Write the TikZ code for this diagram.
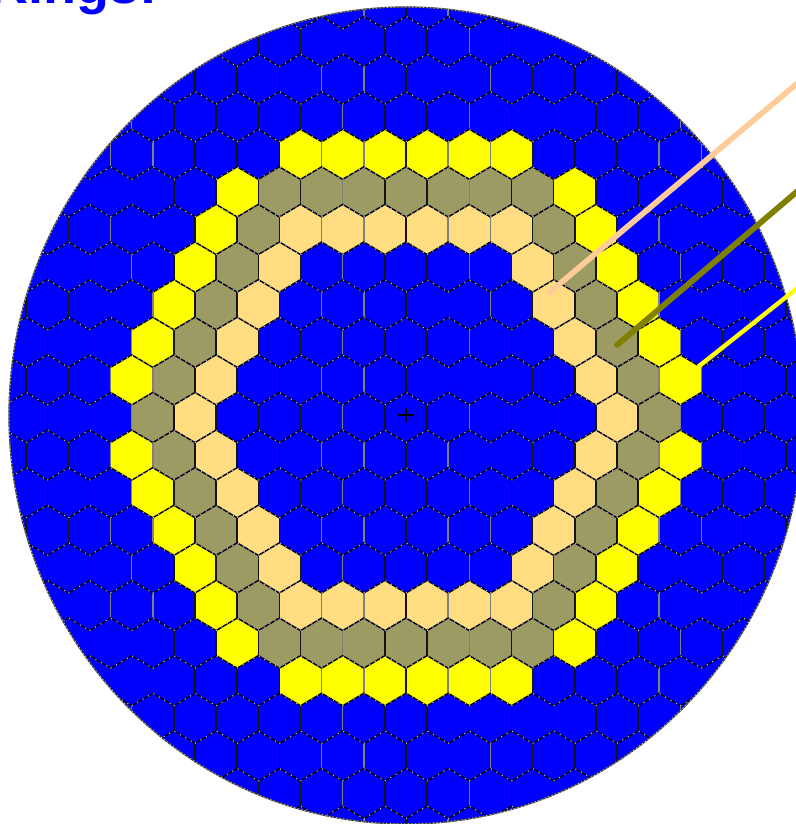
\documentclass[tikz,border=0pt]{standalone}
\usepackage{fontspec}
\setmainfont{Liberation Sans}
\definecolor{ringblue}{RGB}{0,0,255}
\definecolor{ringyellow}{RGB}{255,255,0}
\definecolor{ringkhaki}{RGB}{157,155,100}
\definecolor{ringtan}{RGB}{255,221,128}
\definecolor{leadpeach}{RGB}{255,204,153}
\definecolor{leadolive}{RGB}{128,128,0}
\newcommand{\cellfill}[3]{% row, u, colour
  \pgfmathsetmacro{\cx}{406+21.1*(#2)}
  \pgfmathsetmacro{\cy}{417.5+37.6*(#1)}
  \fill[#3] (\cx,\cy-25.07) -- (\cx+21.1,\cy-12.53) -- (\cx+21.1,\cy+12.53) -- (\cx,\cy+25.07) -- (\cx-21.1,\cy+12.53) -- (\cx-21.1,\cy-12.53) -- cycle;}
\tikzset{
  vedge/.style={line width=1.5pt,black!92},
  vedgelight/.style={line width=1.5pt,black!50},
  sedge/.style={line width=1.4pt,black!90!blue},
  sdots/.style={line width=1.1pt,black!25!white,dash pattern=on 1.1pt off 5.2pt},
  lead/.style={line cap=round}
}
\begin{document}
\begin{tikzpicture}[x=1pt,y=-1pt]
\useasboundingbox (0,0) rectangle (795,824);
\node[anchor=base west,inner sep=0pt,text=ringblue,font=\bfseries\fontsize{54}{54}\selectfont] (title) at (-11,3.2) {Rings:};
\fill[ringblue] (406,415.5) ellipse [x radius=397,y radius=408.5];
\begin{scope}
\clip (406,415.5) ellipse [x radius=397,y radius=408.5];
% coloured cells: row 7
\foreach \r in {-7,7} \foreach \u in {-5,-3,-1,1,3,5} {\cellfill{\r}{\u}{ringyellow}}
% row 6
\foreach \r in {-6,6} {
  \foreach \u in {-8,8} {\cellfill{\r}{\u}{ringyellow}}
  \foreach \u in {-6,-4,-2,0,2,4,6} {\cellfill{\r}{\u}{ringkhaki}}}
% row 5
\foreach \r in {-5,5} {
  \foreach \u in {-9,9} {\cellfill{\r}{\u}{ringyellow}}
  \foreach \u in {-7,7} {\cellfill{\r}{\u}{ringkhaki}}
  \foreach \u in {-5,-3,-1,1,3,5} {\cellfill{\r}{\u}{ringtan}}}
% rows 4 to 1
\foreach \a/\b in {4/10,3/11,2/12,1/13} {
  \foreach \r in {-\a,\a} {
    \pgfmathtruncatemacro{\ky}{\b}
    \pgfmathtruncatemacro{\kk}{\b-2}
    \pgfmathtruncatemacro{\kt}{\b-4}
    \cellfill{\r}{\ky}{ringyellow}\cellfill{\r}{-\ky}{ringyellow}
    \cellfill{\r}{\kk}{ringkhaki}\cellfill{\r}{-\kk}{ringkhaki}
    \cellfill{\r}{\kt}{ringtan}\cellfill{\r}{-\kt}{ringtan}}}
% row 0
\cellfill{0}{12}{ringkhaki}\cellfill{0}{-12}{ringkhaki}
\cellfill{0}{10}{ringtan}\cellfill{0}{-10}{ringtan}
% vertical edges
\foreach \r in {-11,...,11} {
  \pgfmathtruncatemacro{\st}{-20+mod(abs(\r)+1,2)}
  \pgfmathtruncatemacro{\nx}{\st+2}
  \foreach \u in {\st,\nx,...,20} {
    \pgfmathsetmacro{\cx}{406+21.1*\u}
    \pgfmathsetmacro{\cy}{417.5+37.6*\r}
    \pgfmathtruncatemacro{\au}{abs(\u)}
    \pgfmathtruncatemacro{\lt}{(\au>=2 && \au<=4) || (\au>=12 && \au<=14) ? 1 : 0}
    \ifnum\lt=1
      \draw[vedgelight] (\cx,\cy-12.53) -- (\cx,\cy+12.53);
    \else
      \draw[vedge] (\cx,\cy-12.53) -- (\cx,\cy+12.53);
    \fi}}
% edges absent from the picture
\foreach \r/\u in {-1/2,-1/4,1/4,-3/2,-3/14,-6/-13,-5/-12,-3/-14,5/-16,6/-13,7/-12,7/-14,-10/-3,-9/2,-6/13,-5/14,4/13,5/14,7/14,8/3,9/2} {
  \pgfmathsetmacro{\cx}{406+21.1*\u}
  \pgfmathsetmacro{\cy}{417.5+37.6*\r}
  \draw[ringblue,line width=3pt] (\cx,\cy-12) -- (\cx,\cy+12);}
% slanted edges
\foreach \r in {-11,...,12} {
  \pgfmathtruncatemacro{\st}{-20+mod(abs(\r),2)}
  \pgfmathtruncatemacro{\nx}{\st+2}
  \foreach \u in {\st,\nx,...,20} {
    \pgfmathsetmacro{\cx}{406+21.1*\u}
    \pgfmathsetmacro{\cy}{417.5+37.6*\r}
    \draw[sedge] (\cx-21.1,\cy-12.53) -- (\cx,\cy-25.07) -- (\cx+21.1,\cy-12.53);
    \draw[sdots] (\cx-21.1,\cy-12.53) -- (\cx,\cy-25.07) -- (\cx+21.1,\cy-12.53);}}
\end{scope}
\draw[black!75,line width=1.3pt] (406,415.5) ellipse [x radius=397,y radius=408.5];
\draw[black!25!white,line width=1pt,dash pattern=on 1pt off 2.6pt] (406,415.5) ellipse [x radius=397,y radius=408.5];
% centre mark
\coordinate (cm) at (406,415);
\draw[black,line width=1.2pt] ([xshift=-8pt]cm) -- ([xshift=8pt]cm) ([yshift=-7pt]cm) -- ([yshift=7pt]cm);
% leaders
\coordinate (peachA) at (800,81);   \coordinate (peachB) at (550,292);
\coordinate (oliveA) at (800,189);  \coordinate (oliveB) at (617,345);
\coordinate (yellowA) at (800,286); \coordinate (yellowB) at (698,367);
\draw[lead,leadpeach,line width=5.6pt] (peachA) -- (peachB);
\draw[lead,leadolive,line width=5.8pt] (oliveA) -- (oliveB);
\draw[ringyellow,line width=4.4pt] (yellowA) -- (yellowB);
\end{tikzpicture}
\end{document}
